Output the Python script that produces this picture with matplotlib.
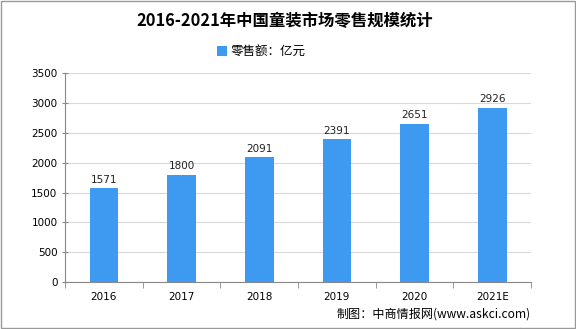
import numpy as np
import matplotlib
matplotlib.use('Agg')
import matplotlib.pyplot as plt
from matplotlib.patches import Rectangle

plt.rcParams['font.family'] = ['Noto Sans CJK SC', 'DejaVu Sans']

years = ['2016', '2017', '2018', '2019', '2020', '2021E']
values = [1571, 1800, 2091, 2391, 2651, 2926]
y_ticks = [0, 500, 1000, 1500, 2000, 2500, 3000, 3500]

bar_color = '#3d9af0'

fig = plt.figure(figsize=(5.76, 3.29), dpi=100)
ax = fig.add_axes([0.113, 0.143, 0.809, 0.634])

x = np.arange(len(years))
ax.bar(x, values, width=0.37, color=bar_color, zorder=3, label='零售额：亿元')
for xi, v in zip(x, values):
    ax.text(xi, v + 60, str(v), ha='center', va='bottom', fontsize=7.5,
            family='DejaVu Sans', color='#222222')

ax.set_xlim(-0.5, len(years) - 0.5)
ax.set_ylim(0, 3500)
ax.set_yticks(y_ticks)
ax.set_yticklabels([str(t) for t in y_ticks], fontsize=7.5, family='DejaVu Sans')
ax.set_xticks(x)
ax.set_xticklabels(years, fontsize=7.5, family='DejaVu Sans')
ax.tick_params(axis='x', length=0, pad=7)
ax.set_xticks(np.arange(-0.5, len(years)), minor=True)
ax.tick_params(axis='x', which='minor', length=4, color='#888888')
ax.tick_params(axis='y', length=4, color='#888888', direction='inout')
ax.grid(axis='y', color='#d9d9d9', linewidth=0.8, zorder=0)
for s in ['top', 'right']:
    ax.spines[s].set_visible(False)
ax.spines['left'].set_color('#888888')
ax.spines['bottom'].set_color('#888888')

fig.text(0.494, 0.935, '2016-2021年中国童装市场零售规模统计', ha='center', va='center',
         fontsize=11.8, fontweight='bold')
fig.legend(loc='center', bbox_to_anchor=(0.453, 0.843), frameon=False, fontsize=9,
           handlelength=0.8, handleheight=0.8, handletextpad=0.3)
fig.text(0.922, 0.045, '制图：中商情报网(www.askci.com)', ha='right', va='center',
         fontsize=8.7)

fig.patches.append(Rectangle((0.002, 0.003), 0.996, 0.994, transform=fig.transFigure,
                             fill=False, edgecolor='#999999', linewidth=1))

fig.savefig('out.png', dpi=100)
